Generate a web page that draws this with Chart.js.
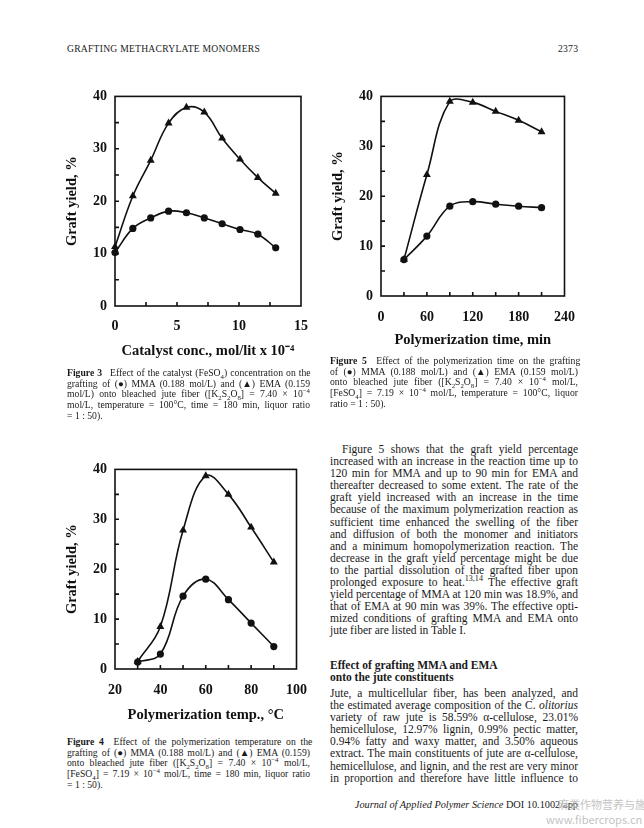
<!DOCTYPE html>
<html>
<head>
<meta charset="utf-8">
<script src="https://cdn.jsdelivr.net/npm/chart.js@4.4.1/dist/chart.umd.min.js"></script>
<style>
  html, body { margin: 0; padding: 0; background: #fff; }
  #page { position: relative; width: 644px; height: 828px; overflow: hidden; color: #1a1a1a;
          font-family: "Liberation Serif", serif; }
  .abs { position: absolute; }
  canvas { position: absolute; }
  .hdr { font-size: 9.6px; letter-spacing: 0.25px; }
  .cap { font-size: 9.7px; }
  .cap div, .body div { white-space: nowrap; }
  .cap div { height: 10.7px; line-height: 10.7px; }
  .body { font-size: 11.5px; }
  .body div { height: 12.1px; line-height: 12.1px; }
  .j { display: block; }
  sub, sup { font-size: 70%; line-height: 0; }
  .wm { color: #c4c4c4; font-family: "Noto Sans CJK SC", "Noto Sans", sans-serif; font-size: 11px; }
</style>
</head>
<body>
<div id="page">
  <div class="abs hdr" style="left:67px; top:43px;">GRAFTING METHACRYLATE MONOMERS</div>
  <div class="abs hdr" style="left:558px; top:43px;">2373</div>

  <canvas id="fig3" width="270" height="290" style="left:50px; top:80px;"></canvas>
  <canvas id="fig5" width="270" height="276" style="left:318px; top:80px;"></canvas>
  <canvas id="fig4" width="270" height="280" style="left:50px; top:453px;"></canvas>

  <div class="abs cap" style="left:67px; top:368px; width:243px;">
    <div class="j" style="width:243px"><span><b>Figure 3</b>&ensp;&nbsp;Effect of the catalyst (FeSO<sub>4</sub>) concentration on the</span></div>
    <div class="j" style="width:243px"><span>grafting of (●) MMA (0.188 mol/L) and (▲) EMA (0.159</span></div>
    <div class="j" style="width:243px"><span>mol/L) onto bleached jute fiber ([K<sub>2</sub>S<sub>2</sub>O<sub>8</sub>] = 7.40 × 10<sup>−4</sup></span></div>
    <div class="j" style="width:243px"><span>mol/L, temperature = 100°C, time = 180 min, liquor ratio</span></div>
    <div><span>= 1 : 50).</span></div>
  </div>

  <div class="abs cap" style="left:330px; top:356px; width:248px;">
    <div class="j" style="width:248px"><span><b>Figure 5</b>&ensp;&nbsp;Effect of the polymerization time on the grafting</span></div>
    <div class="j" style="width:248px"><span>of (●) MMA (0.188 mol/L) and (▲) EMA (0.159 mol/L)</span></div>
    <div class="j" style="width:248px"><span>onto bleached jute fiber ([K<sub>2</sub>S<sub>2</sub>O<sub>8</sub>] = 7.40 × 10<sup>−4</sup> mol/L,</span></div>
    <div class="j" style="width:248px"><span>[FeSO<sub>4</sub>] = 7.19 × 10<sup>−4</sup> mol/L, temperature = 100°C, liquor</span></div>
    <div><span>ratio = 1 : 50).</span></div>
  </div>

  <div class="abs cap" style="left:67px; top:737px; width:243px;">
    <div class="j" style="width:243px"><span><b>Figure 4</b>&ensp;&nbsp;Effect of the polymerization temperature on the</span></div>
    <div class="j" style="width:243px"><span>grafting of (●) MMA (0.188 mol/L) and (▲) EMA (0.159)</span></div>
    <div class="j" style="width:243px"><span>onto bleached jute fiber ([K<sub>2</sub>S<sub>2</sub>O<sub>8</sub>] = 7.40 × 10<sup>−4</sup> mol/L,</span></div>
    <div class="j" style="width:243px"><span>[FeSO<sub>4</sub>] = 7.19 × 10<sup>−4</sup> mol/L, time = 180 min, liquor ratio</span></div>
    <div><span>= 1 : 50).</span></div>
  </div>

  <div class="abs body" style="left:330px; top:443px; width:248px;">
    <div class="j" style="width:236px; margin-left:12px"><span>Figure 5 shows that the graft yield percentage</span></div>
    <div class="j" style="width:248px"><span>increased with an increase in the reaction time up to</span></div>
    <div class="j" style="width:248px"><span>120 min for MMA and up to 90 min for EMA and</span></div>
    <div class="j" style="width:248px"><span>thereafter decreased to some extent. The rate of the</span></div>
    <div class="j" style="width:248px"><span>graft yield increased with an increase in the time</span></div>
    <div class="j" style="width:248px"><span>because of the maximum polymerization reaction as</span></div>
    <div class="j" style="width:248px"><span>sufficient time enhanced the swelling of the fiber</span></div>
    <div class="j" style="width:248px"><span>and diffusion of both the monomer and initiators</span></div>
    <div class="j" style="width:248px"><span>and a minimum homopolymerization reaction. The</span></div>
    <div class="j" style="width:248px"><span>decrease in the graft yield percentage might be due</span></div>
    <div class="j" style="width:248px"><span>to the partial dissolution of the grafted fiber upon</span></div>
    <div class="j" style="width:248px"><span>prolonged exposure to heat.<sup>13,14</sup> The effective graft</span></div>
    <div class="j" style="width:248px"><span>yield percentage of MMA at 120 min was 18.9%, and</span></div>
    <div class="j" style="width:248px"><span>that of EMA at 90 min was 39%. The effective opti-</span></div>
    <div class="j" style="width:248px"><span>mized conditions of grafting MMA and EMA onto</span></div>
    <div><span>jute fiber are listed in Table I.</span></div>
  </div>

  <div class="abs body" style="left:330px; top:659px; width:248px; font-weight:bold;">
    <div><span>Effect of grafting MMA and EMA</span></div>
    <div><span>onto the jute constituents</span></div>
  </div>

  <div class="abs body" style="left:330px; top:687px; width:248px;">
    <div class="j" style="width:248px"><span>Jute, a multicellular fiber, has been analyzed, and</span></div>
    <div class="j" style="width:248px"><span>the estimated average composition of the C. <i>olitorius</i></span></div>
    <div class="j" style="width:248px"><span>variety of raw jute is 58.59% α-cellulose, 23.01%</span></div>
    <div class="j" style="width:248px"><span>hemicellulose, 12.97% lignin, 0.99% pectic matter,</span></div>
    <div class="j" style="width:248px"><span>0.94% fatty and waxy matter, and 3.50% aqueous</span></div>
    <div class="j" style="width:248px"><span>extract. The main constituents of jute are α-cellulose,</span></div>
    <div class="j" style="width:248px"><span>hemicellulose, and lignin, and the rest are very minor</span></div>
    <div class="j" style="width:248px"><span>in proportion and therefore have little influence to</span></div>
  </div>

  <div class="abs" style="right:66px; top:799px; font-size:10.3px; white-space:nowrap;"><i>Journal of Applied Polymer Science</i> DOI 10.1002/app</div>
  <div class="abs wm" style="left:558px; top:796px; white-space:nowrap;">麻类作物营养与施肥网</div>
  <div class="abs wm" style="left:546px; top:811px; white-space:nowrap;">www.fibercrops.cn</div>
</div>

<script>
// Figure 3: catalyst concentration, mol/lit x 10^-4
const catConc = [0, 1.44, 2.88, 4.32, 5.76, 7.20, 8.64, 10.08, 11.52, 12.96];
const catMMA  = [10.2, 14.8, 16.8, 18.1, 17.8, 16.8, 15.7, 14.6, 13.7, 11.1];
const catEMA  = [11.3, 21.0, 27.8, 34.9, 37.9, 37.0, 32.0, 28.0, 24.5, 21.5];

// Figure 5: polymerization time, min
const timeMin = [30, 60, 90, 120, 150, 180, 210];
const timeMMA = [7.3, 12.0, 18.0, 18.9, 18.4, 18.0, 17.7];
const timeEMA = [7.3, 24.3, 39.0, 38.8, 37.0, 35.2, 32.9];

// Figure 4: polymerization temperature, °C
const tempC   = [30, 40, 50, 60, 70, 80, 90];
const tempMMA = [1.4, 3.0, 14.6, 18.0, 13.9, 9.2, 4.5];
const tempEMA = [1.5, 8.5, 27.8, 38.7, 35.0, 28.4, 21.4];

const ink = '#111';

// justify each text line to its box width
document.querySelectorAll('.j').forEach(el => {
  const span = el.firstElementChild;
  const natural = span.getBoundingClientRect().width;
  const gaps = (el.textContent.match(/ /g) || []).length;
  if (gaps) el.style.wordSpacing = ((el.clientWidth - natural) / gaps) + 'px';
});

Chart.defaults.font.family = '"Liberation Serif", "Times New Roman", serif';
Chart.defaults.font.weight = 'bold';
Chart.defaults.font.size = 14;
Chart.defaults.color = ink;

// plot frame with inward ticks
const frame = {
  id: 'frame',
  afterDraw(chart) {
    const { ctx, chartArea: a, scales: { x, y } } = chart;
    ctx.save();
    ctx.strokeStyle = ink;
    ctx.lineWidth = 1.6;
    ctx.strokeRect(a.left, a.top, a.right - a.left, a.bottom - a.top);
    ctx.beginPath();
    x.ticks.slice(1, -1).forEach(t => {
      const px = x.getPixelForValue(t.value);
      ctx.moveTo(px, a.bottom); ctx.lineTo(px, a.bottom - 4);
    });
    y.ticks.slice(1, -1).forEach(t => {
      const py = y.getPixelForValue(t.value);
      ctx.moveTo(a.left, py); ctx.lineTo(a.left + 4, py);
    });
    ctx.stroke();
    ctx.restore();
  }
};

function makeChart(id, xs, mma, ema, o) {
  const series = (vals, style, r) => ({
    data: xs.map((x, i) => ({ x: x, y: vals[i] })),
    borderColor: ink,
    backgroundColor: ink,
    borderWidth: 1.6,
    pointStyle: style,
    pointRadius: r,
    pointBackgroundColor: ink,
    pointBorderColor: ink,
    pointBorderWidth: 0,
    tension: 0.4,
    clip: false
  });
  return new Chart(document.getElementById(id), {
    type: 'line',
    data: { datasets: [series(mma, 'circle', 3.6), series(ema, 'triangle', 4.6)] },
    options: {
      responsive: false,
      animation: false,
      layout: { padding: { top: 15, right: o.padRight, left: 0, bottom: 0 } },
      plugins: { legend: { display: false }, tooltip: { enabled: false } },
      scales: {
        x: {
          type: 'linear', min: o.xMin, max: o.xMax,
          grid: { display: false, drawTicks: false },
          border: { display: false },
          ticks: { stepSize: o.xStep, padding: o.xPad, maxRotation: 0, autoSkip: false,
                   callback: v => (v % o.xLab === 0 ? v : '') },
          title: { display: true, text: o.xTitle, font: { size: 14.5 },
                   padding: { top: 0, bottom: o.xTitlePad } },
          afterFit: s => { s.height = o.xh; }
        },
        y: {
          min: 0, max: 40,
          grid: { display: false, drawTicks: false },
          border: { display: false },
          ticks: { stepSize: 5, padding: 8, autoSkip: false,
                   callback: v => (v % 10 === 0 ? v : '') },
          title: { display: true, text: 'Graft yield, %', font: { size: 14.5 },
                   padding: { top: o.yTitlePad, bottom: 0 } },
          afterFit: s => { s.width = o.yw; }
        }
      }
    },
    plugins: [frame]
  });
}

makeChart('fig3', catConc, catMMA, catEMA, {
  xMin: 0, xMax: 15, xStep: 2.5, xLab: 5, xTitle: 'Catalyst conc., mol/lit x 10\u207B\u2074',
  padRight: 13, yw: 65, xh: 64, xPad: 12, xTitlePad: 10, yTitlePad: 14
});
makeChart('fig5', timeMin, timeMMA, timeEMA, {
  xMin: 0, xMax: 240, xStep: 30, xLab: 60, xTitle: 'Polymerization time, min',
  padRight: 21, yw: 63, xh: 60, xPad: 13, xTitlePad: 7, yTitlePad: 12
});
makeChart('fig4', tempC, tempMMA, tempEMA, {
  xMin: 20, xMax: 100, xStep: 10, xLab: 20, xTitle: 'Polymerization temp., \u00B0C',
  padRight: 16, yw: 65, xh: 64, xPad: 13, xTitlePad: 9, yTitlePad: 14
});
</script>
</body>
</html>
